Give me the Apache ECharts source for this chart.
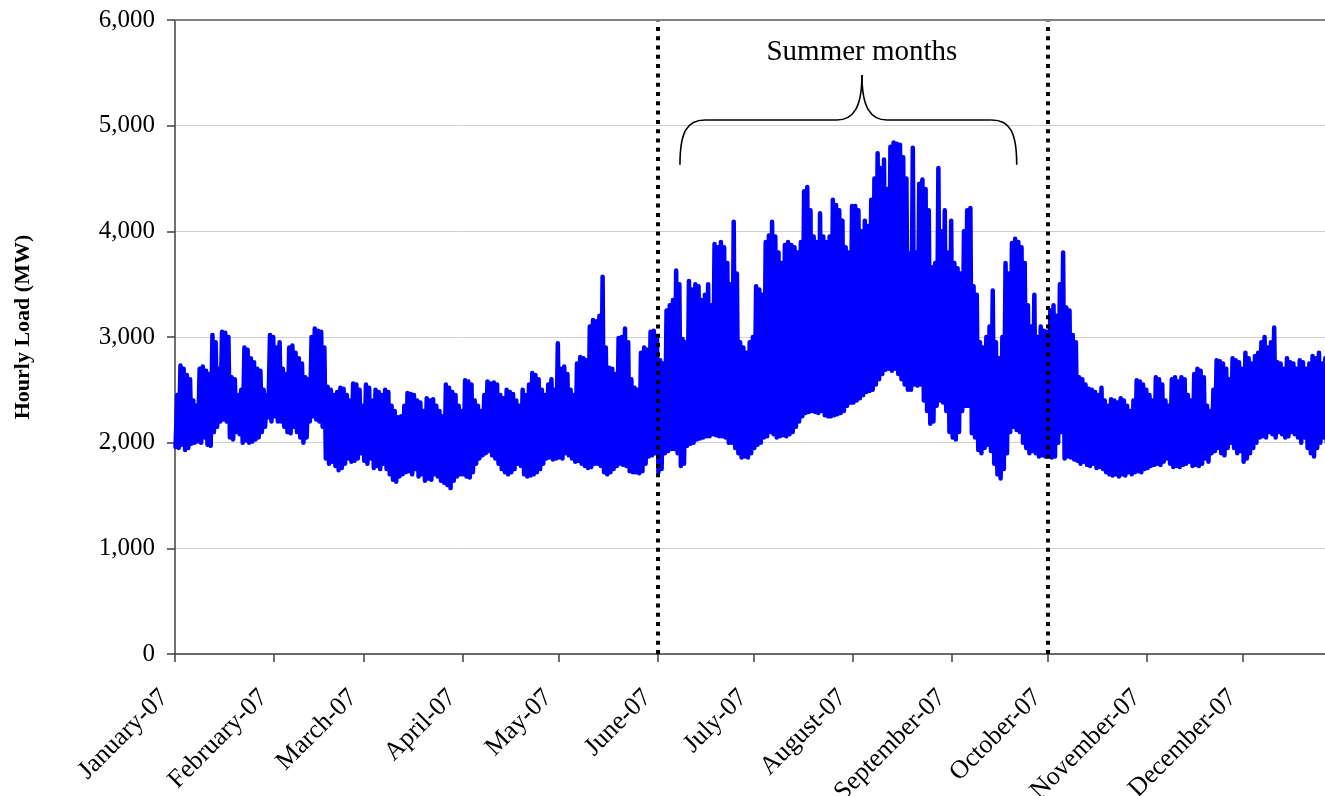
<!DOCTYPE html>
<html>
<head>
<meta charset="utf-8">
<script src="https://cdn.jsdelivr.net/npm/echarts@6.0.0/dist/echarts.min.js"></script>
<style>
html,body{margin:0;padding:0;background:#fff;}
#chart{width:1325px;height:796px;}
</style>
</head>
<body>
<div id="chart"></div>
<script>
// Month starts (day of year, 0-based) and tick labels
const monthStarts = [0,31,59,90,120,151,181,212,243,273,304,334];
const monthLabels = ['January-07','February-07','March-07','April-07','May-07','June-07','July-07','August-07','September-07','October-07','November-07','December-07'];
const yTicks = [0,1000,2000,3000,4000,5000,6000];

// Daily peak (hi) and trough (lo) hourly load, MW
const hiJan = [2450,2730,2700,2640,2600,2400,2350,2700,2720,2680,2650,3020,2950,2700,3050,3040,3000,2620,2600,2450,2500,2900,2880,2800,2760,2700,2680,2500,2450,3020,3000];
const loJan = [1960,1950,1980,1930,1950,1990,2000,2010,2000,2050,1980,1970,2100,2150,2200,2220,2200,2050,2030,2100,2080,2000,2020,2000,2010,2030,2050,2100,2150,2240,2200];
const hiFeb = [2900,2950,2700,2650,2900,2920,2850,2800,2750,2620,2600,3000,3080,3060,3050,2900,2530,2500,2450,2480,2520,2510,2450,2400,2560,2550,2500,2350];
const loFeb = [2250,2200,2200,2150,2100,2090,2150,2100,2050,2000,2050,2200,2250,2220,2200,2150,1850,1800,1820,1780,1740,1760,1800,1850,1820,1830,1850,1900];
const hiMar = [2550,2520,2400,2500,2480,2450,2500,2480,2350,2300,2240,2250,2350,2470,2460,2450,2400,2380,2300,2420,2400,2410,2350,2300,2250,2550,2520,2480,2450,2350,2300];
const loMar = [1830,1800,1850,1760,1780,1750,1800,1750,1700,1650,1630,1680,1700,1720,1730,1700,1750,1680,1700,1640,1660,1650,1700,1680,1640,1620,1600,1570,1640,1680,1700];
const hiApr = [2590,2580,2550,2400,2350,2300,2450,2580,2560,2570,2550,2450,2420,2500,2480,2460,2400,2350,2500,2450,2550,2660,2640,2600,2500,2450,2550,2600,2500,2940];
const loApr = [1700,1680,1670,1720,1800,1850,1880,1900,1920,1880,1850,1800,1750,1720,1700,1720,1750,1800,1780,1700,1680,1690,1700,1720,1750,1800,1850,1860,1840,1850];
const hiMay = [2700,2720,2650,2500,2450,2750,2810,2800,2780,3100,3160,3150,3200,3570,2900,2710,2700,2650,2990,3000,3080,2950,2600,2520,2500,2850,2900,2880,3050,3060,3000];
const loMay = [1860,1850,1900,1880,1850,1820,1830,1800,1780,1760,1770,1800,1800,1780,1720,1700,1720,1750,1780,1800,1790,1780,1730,1720,1720,1710,1730,1800,1870,1880,1900];
const hiJun = [2780,2750,3250,3300,3350,3630,3500,2980,2950,3530,3450,3500,3480,3350,3400,3500,3300,3880,3850,3900,3850,3700,3500,4090,3600,2950,2900,2850,2950,3000];
const loJun = [1720,1750,1900,1920,1940,1940,1900,1780,1800,1970,1990,2000,2030,2040,2050,2060,2060,2080,2070,2060,2060,2050,2000,2000,1950,1900,1860,1870,1860,1900];
const hiJul = [3480,3450,3400,3900,3960,4090,3950,3800,3700,3870,3900,3870,3850,3800,3900,4380,4420,4200,3950,3900,4170,3950,3900,3950,4300,4250,4200,4100,3850,3800,4240];
const loJul = [1950,1980,2000,2050,2060,2100,2080,2050,2060,2070,2060,2080,2100,2150,2200,2250,2280,2290,2300,2290,2280,2300,2260,2250,2250,2260,2270,2280,2300,2350,2380];
const hiAug = [4240,4200,4000,4100,4050,4300,4500,4740,4600,4680,4400,4800,4840,4830,4820,4700,4500,3790,4790,3800,4450,4490,4400,4200,3660,3700,4600,4000,4200,3800,4100];
const loAug = [2380,2400,2420,2450,2480,2490,2500,2550,2600,2650,2690,2700,2680,2700,2650,2600,2550,2500,2500,2550,2540,2550,2400,2300,2180,2200,2350,2400,2380,2300,2100];
const hiSep = [3700,3650,3600,4000,4200,4220,3480,3400,2950,2900,3000,3100,3440,2950,2800,3000,3700,3600,3890,3930,3900,3850,3700,3300,3100,3400,3000,3100,3060,3050];
const loSep = [2050,2030,2100,2300,2350,2350,2090,2050,1930,1900,1950,1980,1920,1800,1700,1660,1750,1900,2100,2150,2120,2100,2000,1950,1900,1920,1900,1870,1880,1870];
const hiOct = [3250,3300,3200,3500,3800,3280,3250,3020,2950,2620,2600,2550,2510,2500,2480,2450,2520,2400,2350,2410,2400,2380,2420,2400,2350,2300,2400,2590,2580,2550,2500];
const loOct = [1880,1860,1870,2000,2100,1850,1870,1860,1840,1830,1800,1820,1790,1780,1800,1760,1770,1750,1720,1700,1690,1700,1680,1700,1690,1720,1700,1720,1730,1720,1750];
const hiNov = [2450,2400,2620,2600,2550,2400,2350,2600,2620,2580,2620,2600,2450,2400,2650,2700,2680,2620,2350,2300,2500,2780,2770,2750,2700,2600,2800,2780,2760,2700];
const loNov = [1760,1780,1790,1800,1790,1820,1850,1800,1770,1780,1770,1790,1800,1820,1780,1790,1780,1800,1850,1820,1900,1920,1950,1900,1880,1950,2000,1950,1900,1920];
const hiDec = [2850,2800,2750,2820,2850,2950,3000,2900,2950,3090,2760,2750,2700,2800,2760,2750,2700,2780,2760,2700,2750,2820,2800,2850,2750,2800,2900];
const loDec = [1820,1850,1900,1950,2000,2050,2060,2050,2100,2080,2050,2100,2080,2050,2060,2100,2080,2050,2000,2050,1950,1900,1870,1950,2000,2050,2000];

const hiAll = [].concat(hiJan,hiFeb,hiMar,hiApr,hiMay,hiJun,hiJul,hiAug,hiSep,hiOct,hiNov,hiDec);
const loAll = [].concat(loJan,loFeb,loMar,loApr,loMay,loJun,loJul,loAug,loSep,loOct,loNov,loDec);

// Daily trough early morning, peak late afternoon
const seriesData = [];
for (let i = 0; i < hiAll.length; i++) {
  seriesData.push([i + 4/24, loAll[i]]);
  seriesData.push([i + 17/24, hiAll[i]]);
}

const FONT = '"Liberation Serif", "Times New Roman", serif';
const chart = echarts.init(document.getElementById('chart'), null, {renderer: 'canvas'});

const option = {
  animation: false,
  backgroundColor: '#ffffff',
  grid: {left: 175, top: 20, right: 0, bottom: 142, containLabel: false, outerBoundsMode: 'none'},
  xAxis: {
    type: 'value',
    min: 0,
    max: 359.6,
    axisLine: {show: true, onZero: false, lineStyle: {color: '#404040', width: 1.5}},
    axisTick: {show: true, customValues: monthStarts, length: 8, inside: false, lineStyle: {color: '#404040', width: 1.5}},
    axisLabel: {
      show: true,
      customValues: monthStarts,
      formatter: function (v) {
        const k = monthStarts.indexOf(Math.round(v));
        return k >= 0 ? '{t|' + monthLabels[k] + '}{s|}' : '';
      },
      rotate: 45,
      margin: 29,
      fontFamily: FONT,
      fontSize: 26,
      color: '#000',
      rich: {
        t: {fontFamily: FONT, fontSize: 26, color: '#000'},
        s: {width: 15}
      }
    },
    splitLine: {show: false}
  },
  yAxis: {
    type: 'value',
    min: 0,
    max: 6000,
    interval: 1000,
    axisLine: {show: true, lineStyle: {color: '#404040', width: 1.5}},
    axisTick: {show: true, length: 8, inside: false, lineStyle: {color: '#404040', width: 1.5}},
    axisLabel: {
      margin: 20,
      fontFamily: FONT,
      fontSize: 25,
      color: '#000',
      formatter: function (v) { return v.toLocaleString('en-US'); }
    },
    splitLine: {show: true, lineStyle: {color: '#d0d0d0', width: 1}}
  },
  series: [{
    type: 'line',
    data: seriesData,
    showSymbol: false,
    symbol: 'none',
    clip: true,
    lineStyle: {color: '#0000ff', width: 4.5, join: 'round', cap: 'round'},
    z: 3,
    markLine: {
      silent: true,
      symbol: ['none', 'none'],
      label: {show: false},
      z: 5,
      data: [
        {xAxis: monthStarts[5], lineStyle: {color: '#000', width: 4, type: [4, 5.3], cap: 'butt'}},
        {xAxis: monthStarts[9], lineStyle: {color: '#000', width: 4, type: [4, 5.3], cap: 'butt'}},
        {yAxis: yTicks[6], lineStyle: {color: '#808080', width: 2, type: 'solid'}}
      ]
    }
  }]
};
chart.setOption(option);

// Annotation: brace over summer months, positioned through the axes
const braceLeftDay = 157.9, bracePeakDay = 214.8, braceRightDay = 263.2;
const braceBase = 4630, braceBar = 5053, bracePeak = 5480, textLevel = 5690;
const px = (d, v) => chart.convertToPixel({gridIndex: 0}, [d, v]);
const pL = px(braceLeftDay, braceBase), pP = px(bracePeakDay, bracePeak), pR = px(braceRightDay, braceBase);
const yBar = px(bracePeakDay, braceBar)[1];
const xL = pL[0], xP = pP[0], xR = pR[0], yBase = pL[1], yPeak = pP[1];
const r = 25;
const sty = {stroke: '#000', lineWidth: 1.6, fill: null};
const textPos = px(bracePeakDay, textLevel);

chart.setOption({
  graphic: [
    {type: 'bezierCurve', shape: {x1: xL, y1: yBase, cpx1: xL, cpy1: yBar + 12, cpx2: xL + 7, cpy2: yBar, x2: xL + r, y2: yBar}, style: sty, z: 10},
    {type: 'line', shape: {x1: xL + r, y1: yBar, x2: xP - r, y2: yBar}, style: sty, z: 10},
    {type: 'bezierCurve', shape: {x1: xP - r, y1: yBar, cpx1: xP - 9, cpy1: yBar, cpx2: xP, cpy2: yBar - 12, x2: xP, y2: yPeak}, style: sty, z: 10},
    {type: 'bezierCurve', shape: {x1: xP, y1: yPeak, cpx1: xP, cpy1: yBar - 12, cpx2: xP + 9, cpy2: yBar, x2: xP + r, y2: yBar}, style: sty, z: 10},
    {type: 'line', shape: {x1: xP + r, y1: yBar, x2: xR - r, y2: yBar}, style: sty, z: 10},
    {type: 'bezierCurve', shape: {x1: xR - r, y1: yBar, cpx1: xR - 7, cpy1: yBar, cpx2: xR, cpy2: yBar + 12, x2: xR, y2: yBase}, style: sty, z: 10},
    {type: 'text', x: textPos[0], y: textPos[1], style: {text: 'Summer months', font: '29px ' + FONT, fill: '#000', align: 'center', verticalAlign: 'middle'}, z: 10},
    {type: 'text', x: 23, y: 327, rotation: Math.PI / 2, style: {text: 'Hourly Load (MW)', font: 'bold 22px ' + FONT, fill: '#000', align: 'center', verticalAlign: 'middle'}, z: 10}
  ]
});
</script>
</body>
</html>
